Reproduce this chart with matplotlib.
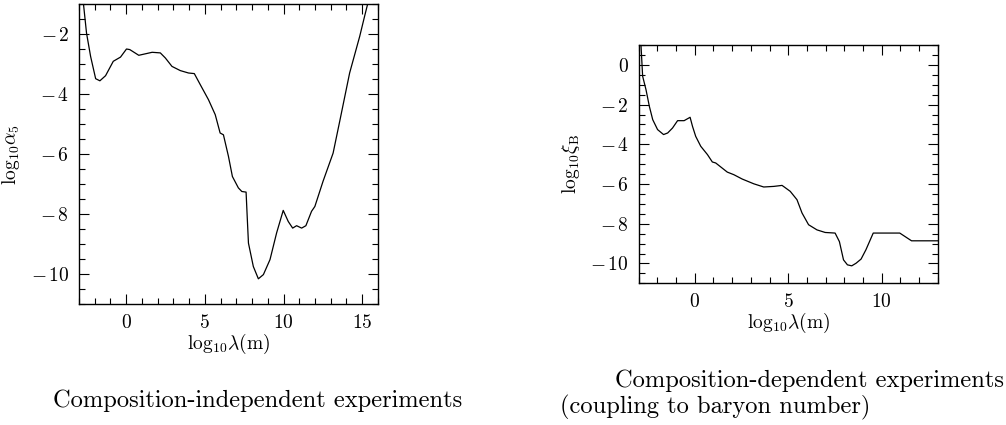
import numpy as np
import matplotlib
matplotlib.use("Agg")
import matplotlib.pyplot as plt
from matplotlib.ticker import MultipleLocator, FuncFormatter

plt.rcParams['mathtext.fontset'] = 'cm'
plt.rcParams['font.family'] = 'serif'
plt.rcParams['font.serif'] = ['cmr10', 'DejaVu Serif']
plt.rcParams['axes.formatter.use_mathtext'] = True
plt.rcParams['axes.unicode_minus'] = True

# composition-independent limits (alpha_5)
lam_ind = [-2.9, -2.72, -2.52, -2.26, -1.94, -1.67, -1.31, -0.82, -0.36, 0.02, 0.23,
           0.8, 1.65, 2.17, 2.49, 2.91, 3.44, 3.96, 4.33, 4.71, 5.23, 5.66, 5.97,
           6.18, 6.5, 6.75, 7.13, 7.35, 7.62, 7.7, 7.77, 8.08, 8.4, 8.72, 9.14,
           9.56, 9.98, 10.3, 10.58, 10.83, 11.15, 11.42, 11.78, 11.99, 12.51,
           13.15, 13.57, 14.2, 14.84, 15.15, 15.36, 15.5]
alpha5 = [0.2, -0.97, -1.97, -2.75, -3.49, -3.56, -3.39, -2.91, -2.77, -2.5, -2.52,
          -2.71, -2.61, -2.63, -2.8, -3.08, -3.22, -3.3, -3.32, -3.69, -4.19,
          -4.69, -5.3, -5.36, -6.08, -6.75, -7.13, -7.25, -7.27, -8.19, -8.97,
          -9.75, -10.16, -10.02, -9.52, -8.63, -7.88, -8.25, -8.47, -8.39, -8.47,
          -8.39, -7.91, -7.75, -6.91, -5.97, -4.91, -3.3, -2.08, -1.41, -0.97, -0.6]

# composition-dependent limits (xi_B)
lam_dep = [-2.95, -2.88, -2.79, -2.61, -2.43, -2.25, -1.99, -1.67, -1.45, -1.19,
           -0.92, -0.57, -0.25, -0.12, 0.05, 0.32, 0.68, 0.94, 1.12, 1.74, 2.09,
           2.54, 3.16, 3.69, 4.23, 4.67, 4.79, 5.11, 5.47, 5.74, 6.09, 6.54, 6.98,
           7.51, 7.74, 7.96, 8.17, 8.4, 8.63, 8.9, 9.16, 9.55, 10.97, 11.6, 12.93, 13.1]
xi_B = [1.5, 1.02, -0.57, -1.25, -2.09, -2.76, -3.26, -3.51, -3.43, -3.18, -2.81,
        -2.81, -2.64, -3.1, -3.6, -4.1, -4.52, -4.89, -4.94, -5.4, -5.53, -5.75,
        -5.99, -6.15, -6.12, -6.07, -6.15, -6.37, -6.79, -7.46, -8.05, -8.31,
        -8.44, -8.47, -8.9, -9.82, -10.07, -10.12, -9.99, -9.78, -9.31, -8.47,
        -8.47, -8.86, -8.86, -8.86]

fig = plt.figure(figsize=(10.06, 4.25), dpi=100)
ax1 = fig.add_axes([0.0785, 0.2847, 0.2972, 0.7059])
ax2 = fig.add_axes([0.6349, 0.3334, 0.2972, 0.5607])


def tick_fmt(v, pos):
    n = int(round(v))
    if n < 0:
        return r'$-\,%d$' % (-n)
    return r'$%d$' % n


def style(ax):
    ax.tick_params(which='both', direction='in', top=True, right=True,
                   labelsize=14, width=0.8)
    ax.tick_params(which='major', length=7, pad=7)
    ax.tick_params(which='minor', length=4.5)
    ax.xaxis.set_major_locator(MultipleLocator(5))
    ax.xaxis.set_minor_locator(MultipleLocator(1))
    ax.yaxis.set_major_locator(MultipleLocator(2))
    ax.yaxis.set_minor_locator(MultipleLocator(0.5))
    ax.xaxis.set_major_formatter(FuncFormatter(tick_fmt))
    ax.yaxis.set_major_formatter(FuncFormatter(tick_fmt))
    for s in ax.spines.values():
        s.set_linewidth(1.0)
    ax.set_xlabel(r'$\mathrm{log}_{10}\lambda(\mathrm{m})$', fontsize=14, labelpad=0)


ax1.plot(lam_ind, alpha5, color='black', lw=0.9)
ax1.set_xlim(-3, 16)
ax1.set_ylim(-11, -1)
style(ax1)
ax1.set_ylabel(r'$\mathrm{log}_{10}\alpha_5$', fontsize=14, labelpad=6)

ax2.plot(lam_dep, xi_B, color='black', lw=0.9)
ax2.set_xlim(-3, 13)
ax2.set_ylim(-11, 1)
style(ax2)
ax2.set_ylabel(r'$\mathrm{log}_{10}\xi_\mathrm{B}$', fontsize=14, labelpad=6)

fig.text(258 / 1006, 1 - 407 / 425, 'Composition-independent experiments',
         fontsize=17.6, ha='center', va='baseline')
fig.text(615 / 1006, 1 - 387 / 425, 'Composition-dependent experiments',
         fontsize=17.6, ha='left', va='baseline')
fig.text(560 / 1006, 1 - 413 / 425, '(coupling to baryon number)',
         fontsize=17.6, ha='left', va='baseline')

fig.savefig('out.png', dpi=100)
